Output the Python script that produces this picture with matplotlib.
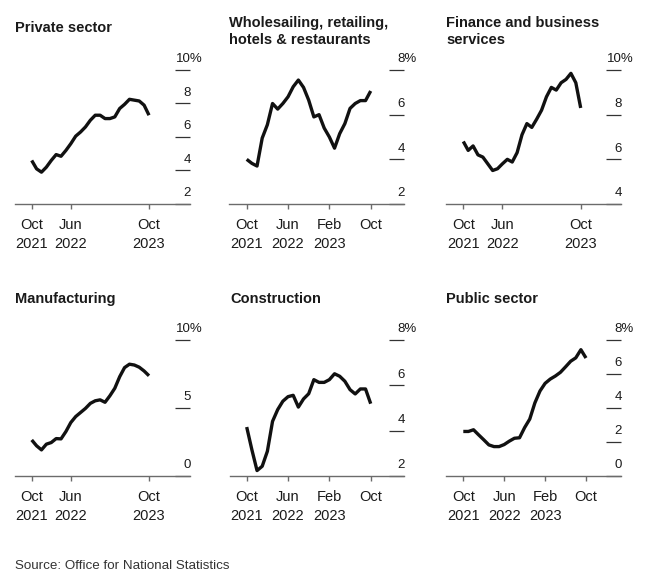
import matplotlib
matplotlib.use("Agg")
import matplotlib.pyplot as plt
import matplotlib.transforms as mtransforms
import numpy as np
import pandas as pd

plt.rcParams["font.family"] = ["Liberation Sans", "DejaVu Sans"]

W, H = 660, 579

# monthly readings, Oct 2021 .. Oct 2023 (% growth)
MONTHS = pd.period_range("2021-10", "2023-10", freq="M")

PRIVATE = [4.6, 4.1, 3.9, 4.2, 4.6, 4.95, 4.85, 5.2, 5.6, 6.05, 6.3, 6.6, 7.0,
           7.3, 7.3, 7.1, 7.1, 7.2, 7.7, 7.95, 8.25, 8.2, 8.15, 7.9, 7.3]
WHOLESALE = [4.0, 3.82, 3.7, 4.95, 5.55, 6.5, 6.25, 6.5, 6.8, 7.25, 7.55, 7.22, 6.65,
             5.9, 6.0, 5.4, 5.0, 4.5, 5.15, 5.6, 6.28, 6.5, 6.63, 6.63, 7.06]
FINANCE = [6.8, 6.4, 6.6, 6.2, 6.1, 5.8, 5.5, 5.58, 5.8, 6.0, 5.88, 6.3, 7.1,
           7.6, 7.43, 7.8, 8.2, 8.8, 9.22, 9.1, 9.43, 9.58, 9.85, 9.43, 8.3]
MANUFACTURING = [2.65, 2.22, 1.92, 2.34, 2.46, 2.75, 2.73, 3.27, 3.93, 4.37, 4.67, 4.97, 5.34,
                 5.53, 5.6, 5.42, 5.9, 6.45, 7.3, 7.97, 8.22, 8.16, 8.0, 7.72, 7.37]
CONSTRUCTION = [4.16, 3.16, 2.24, 2.43, 3.09, 4.41, 4.93, 5.3, 5.5, 5.56, 5.04, 5.4, 5.63,
                6.25, 6.13, 6.13, 6.25, 6.51, 6.4, 6.18, 5.81, 5.62, 5.84, 5.84, 5.19]
PUBLIC = [2.62, 2.62, 2.72, 2.42, 2.13, 1.83, 1.73, 1.73, 1.85, 2.05, 2.22, 2.25, 2.85,
          3.35, 4.3, 5.0, 5.45, 5.7, 5.88, 6.1, 6.42, 6.75, 6.95, 7.43, 6.94]

TITLES = ["Private sector", "Wholesailing, retailing,\nhotels & restaurants",
          "Finance and business\nservices", "Manufacturing", "Construction", "Public sector"]
SERIES = [PRIVATE, WHOLESALE, FINANCE, MANUFACTURING, CONSTRUCTION, PUBLIC]
Y_TICKS = [[2, 4, 6, 8, 10], [2, 4, 6, 8], [4, 6, 8, 10],
           [0, 5, 10], [2, 4, 6, 8], [0, 2, 4, 6, 8]]

X_TICKS_3 = ["2021-10", "2022-06", "2023-10"]
X_LABELS_3 = ["Oct\n2021", "Jun\n2022", "Oct\n2023"]
X_TICKS_4 = ["2021-10", "2022-06", "2023-02", "2023-10"]
X_LABELS_4 = ["Oct\n2021", "Jun\n2022", "Feb\n2023", "Oct"]
X_STYLE = [3, 4, 3, 3, 4, 4]

# pixel layout: axis line left/right, Oct 2021 and Oct 2023 tick x
COLS = [(15, 190, 31.7, 149.0), (229, 404, 246.7, 370.7), (446, 621, 463.3, 580.7),
        (15, 190, 31.7, 149.0), (230, 404, 246.7, 370.7), (446, 621, 463.3, 586.0)]
# top tick y, baseline y, last title-line baseline (1 line, 2 lines)
ROWS = [(70, 204, 32, 44), (340, 476, 303, 303)]

TEXT = "#1a1a1a"
YLAB_SIZE = 9.5
PCT_WIDTH = 0.889 * YLAB_SIZE  # width of "%" in points, so numbers stay right-aligned


def draw_panel(fig, i):
    left, right, x0, x1 = COLS[i]
    top, base, tb1, tb2 = ROWS[i // 3]
    ax = fig.add_axes([left / W, 1 - base / H, (right - left) / W, (base - top) / H])

    x = np.arange(len(MONTHS))
    ax.plot(x, SERIES[i], color="#111111", linewidth=2.4, solid_joinstyle="round",
            solid_capstyle="butt", clip_on=False)

    scale = (x1 - x0) / 24
    ax.set_xlim((left - x0) / scale, (right - x0) / scale)
    ticks = Y_TICKS[i]
    ax.set_ylim(ticks[0], ticks[-1])

    for s in ("top", "left", "right"):
        ax.spines[s].set_visible(False)
    ax.spines["bottom"].set_color("#6b6b6b")
    ax.spines["bottom"].set_linewidth(1.0)

    if X_STYLE[i] == 3:
        tm, tl = X_TICKS_3, X_LABELS_3
    else:
        tm, tl = X_TICKS_4, X_LABELS_4
    ax.set_xticks([MONTHS.get_loc(pd.Period(m, freq="M")) for m in tm])
    ax.set_xticklabels(tl, fontsize=10.5, color=TEXT, linespacing=1.42)
    ax.tick_params(axis="x", direction="out", length=3.6, width=1.0, color="#6b6b6b", pad=6.5)

    ax.set_yticks(ticks)
    ax.yaxis.set_ticks_position("right")
    ax.tick_params(axis="y", direction="in", length=10.8, width=0.9, color="#333333",
                   labelleft=False, labelright=False)

    trans = mtransforms.blended_transform_factory(ax.transAxes, ax.transData)
    for v in ticks:
        label, dx = f"{v:g}", 0.5
        if v == ticks[-1]:
            label, dx = label + "%", 0.5 + PCT_WIDTH
        ax.annotate(label, xy=(1, v), xycoords=trans, xytext=(dx, 5.5),
                    textcoords="offset points", ha="right", va="baseline",
                    fontsize=YLAB_SIZE, color=TEXT)

    title = TITLES[i]
    tb = tb2 if "\n" in title else tb1
    fig.text(left / W, 1 - tb / H, title, ha="left", va="baseline", fontsize=10.5,
             fontweight="bold", color=TEXT, linespacing=1.28)


def main():
    fig = plt.figure(figsize=(W / 100, H / 100), dpi=100)
    fig.patch.set_facecolor("white")
    for i in range(len(SERIES)):
        draw_panel(fig, i)
    fig.text(15 / W, 1 - 569 / H, "Source: Office for National Statistics",
             ha="left", va="baseline", fontsize=9.6, color="#333333")
    fig.savefig("out.png", dpi=100)
    plt.close(fig)


if __name__ == "__main__":
    main()
